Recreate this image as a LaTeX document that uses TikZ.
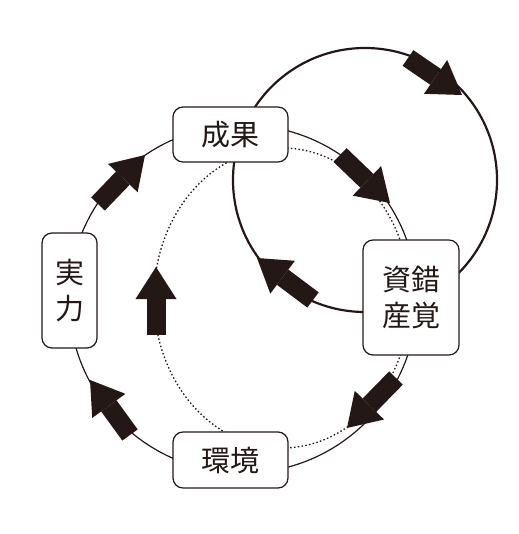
\documentclass[tikz,border=0pt]{standalone}
\usepackage{fontspec}
\newfontfamily\jpfont{Noto Sans CJK JP}
\usetikzlibrary{arrows.meta}
\definecolor{Ink}{HTML}{231815}
\tikzset{ring/.style={draw=Ink,line width=1.2pt},
 loopline/.style={draw=Ink,line width=2.2pt},
 trace/.style={draw=Ink,line width=1.3pt,dash pattern=on 1.5pt off 2.3pt},
 tag/.style={draw=Ink,line width=1.2pt,fill=white,rounded corners=10pt,align=center,
 inner sep=0pt,text=Ink,font=\jpfont\fontsize{29}{36}\selectfont},
 fat/.style={draw=Ink,line width=19pt,-{Triangle[length=32pt,width=41pt,line width=0pt]}}}

\begin{document}
\begin{tikzpicture}[x=1pt,y=-1pt]
\useasboundingbox (0,0) rectangle (518,534);
% three loops
\draw[ring] (243,299) circle[radius=174];
\draw[loopline] (365,180) circle[radius=132];
\draw[trace] (282,298) ellipse[x radius=128,y radius=150];
% boxes
\node[tag,minimum width=115pt,minimum height=55pt] (seika) at (230.5,134.5) {成果};
\node[tag,minimum width=55pt,minimum height=115pt] (jitsu) at (69.5,290.5) {実\\力};
\node[tag,minimum width=96pt,minimum height=115pt] (shisan) at (411,297.5) {資錯\\産覚};
\node[tag,minimum width=115pt,minimum height=56pt] (kankyo) at (230.5,460) {環境};
% block arrows
\foreach \n/\s/\e in {1/{408,58}/{462,95},2/{340,155}/{390,203},3/{313,300}/{257,258},
 4/{396,378}/{347,428},5/{130,435}/{90,380},6/{98,204}/{145,155},7/{156,335}/{156,267}}
 {\coordinate (s\n) at (\s);
 \coordinate (e\n) at (\e);
 \draw[fat] (s\n) -- (e\n);}
\end{tikzpicture}
\end{document}
